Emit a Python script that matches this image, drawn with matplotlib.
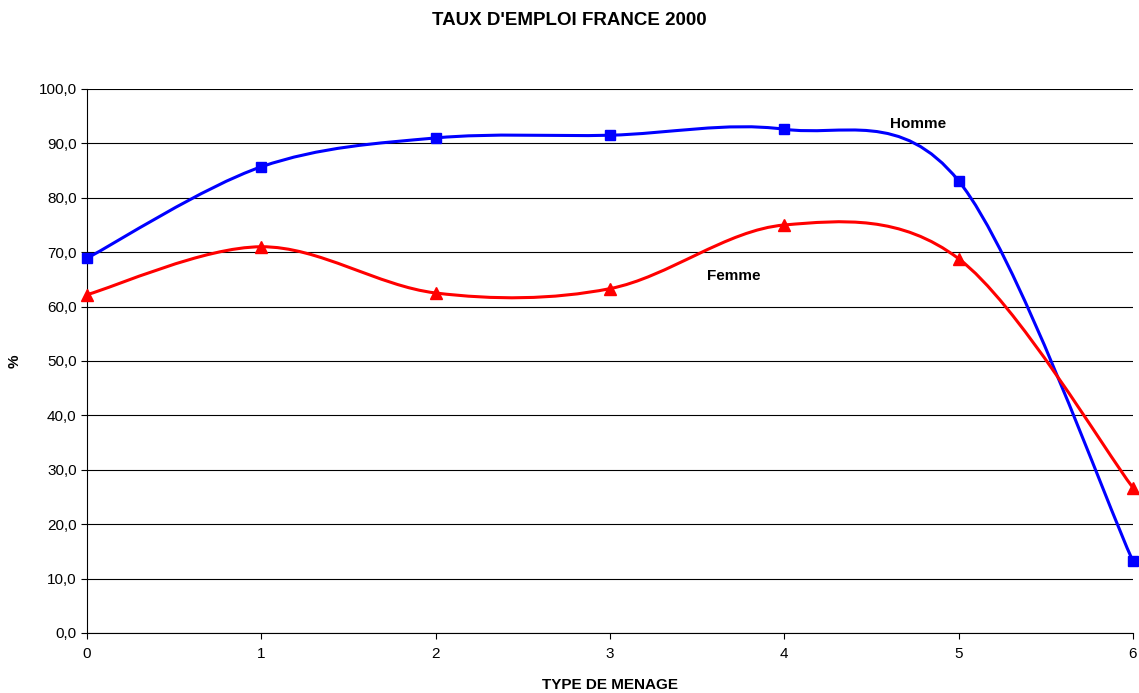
import numpy as np
import matplotlib
matplotlib.use("Agg")
import matplotlib.pyplot as plt
from matplotlib.path import Path
from matplotlib.patches import PathPatch

plt.rcParams['font.family'] = ['Liberation Sans', 'DejaVu Sans']

types = [0, 1, 2, 3, 4, 5, 6]
homme = [68.9, 85.7, 91.0, 91.5, 92.6, 83.1, 13.2]
femme = [62.2, 71.0, 62.5, 63.3, 75.0, 68.8, 26.7]
yticks = np.arange(0, 101, 10)


def smooth_path(x, y):
    # Bezier segments through the points, Excel-style smoothed line
    pts = np.column_stack([x, y]).astype(float)
    ext = np.vstack([pts[0], pts, pts[-1]])
    verts = [pts[0]]
    codes = [Path.MOVETO]
    for i in range(len(pts) - 1):
        p0, p1, p2, p3 = ext[i], ext[i + 1], ext[i + 2], ext[i + 3]
        c1 = p1 + (p2 - p0) / 6.0
        c2 = p2 - (p3 - p1) / 6.0
        verts += [c1, c2, p2]
        codes += [Path.CURVE4] * 3
    return Path(verts, codes)


fig = plt.figure(figsize=(11.39, 6.93), dpi=100)
ax = fig.add_axes([0.0764, 0.0866, 0.9183, 0.785])

for v in yticks:
    ax.axhline(v, color='black', lw=0.8, zorder=1)

for vals, col, mk, ms in [(homme, '#0000FF', 's', 7.5), (femme, '#FF0000', '^', 8)]:
    ax.add_patch(PathPatch(smooth_path(types, vals), facecolor='none',
                           edgecolor=col, lw=2.2, zorder=3, clip_on=False))
    ax.plot(types, vals, linestyle='none', marker=mk, ms=ms, color=col,
            zorder=4, clip_on=False)

ax.text(4.77, 93.6, 'Homme', fontsize=11, fontweight='bold', ha='center', va='center')
ax.text(3.71, 65.6, 'Femme', fontsize=11, fontweight='bold', ha='center', va='center')

ax.set_xlim(0, 6)
ax.set_ylim(0, 100)
ax.set_xticks(types)
ax.set_yticks(yticks)
ax.set_yticklabels([f"{v:.1f}".replace('.', ',') for v in yticks])
ax.tick_params(labelsize=11, length=4, width=0.8, direction='out', colors='black')
ax.tick_params(axis='x', pad=6)
for s in ['top', 'right']:
    ax.spines[s].set_visible(False)
for s in ['left', 'bottom']:
    ax.spines[s].set_linewidth(0.8)

ax.set_xlabel('TYPE DE MENAGE', fontsize=11, fontweight='bold', labelpad=12)
ax.set_ylabel('%', fontsize=11, fontweight='bold', labelpad=12)
fig.text(0.5, 0.97, "TAUX D'EMPLOI FRANCE 2000", fontsize=13.5, fontweight='bold',
         ha='center', va='center')

fig.savefig('out.png', dpi=100)
